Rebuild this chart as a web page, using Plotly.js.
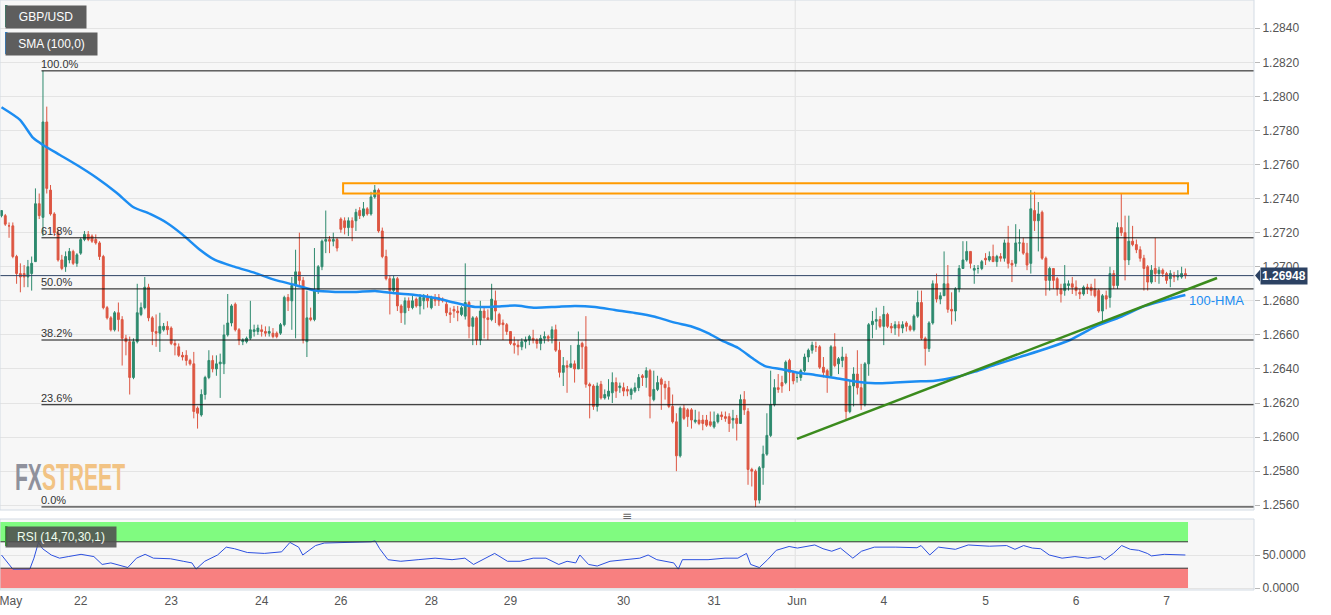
<!DOCTYPE html>
<html><head><meta charset="utf-8">
<script src="https://cdn.plot.ly/plotly-3.0.1.min.js"></script>
<style>
html,body{margin:0;padding:0;background:#fff;}
#wrap{position:relative;width:1331px;height:615px;overflow:hidden;}
#chart{width:1331px;height:615px;}
#wm{position:absolute;left:15px;top:465px;height:26px;font-family:"Liberation Sans Narrow","Liberation Sans",Arial,sans-serif;font-weight:bold;font-size:36px;line-height:26px;transform-origin:0 0;white-space:nowrap;pointer-events:none;overflow:visible;}
</style></head><body>
<div id="wrap"><div id="chart"></div><div id="wm"><span style="color:#8f919c">FX</span><span style="color:#f2c384">STREET</span></div></div>
<script>
// ---- hourly GBP/USD candles ----
const opens = [
1.2730,1.2730,1.2724,1.2724,1.2706,1.2696,1.2696,1.2694,1.2696,1.2703,
1.2737,1.2729,1.2785,1.2745,1.2731,1.2720,1.2704,1.2700,1.2704,1.2709,
1.2702,1.2708,1.2716,1.2719,1.2718,1.2716,1.2714,1.2706,1.2676,1.2670,
1.2663,1.2673,1.2669,1.2658,1.2656,1.2635,1.2656,1.2672,1.2676,1.2688,
1.2670,1.2662,1.2661,1.2663,1.2665,1.2664,1.2655,1.2653,1.2648,1.2648,
1.2645,1.2643,1.2617,1.2613,1.2625,1.2635,1.2645,1.2640,1.2643,1.2643,
1.2660,1.2667,1.2678,1.2663,1.2656,1.2656,1.2658,1.2662,1.2662,1.2663,
1.2662,1.2661,1.2661,1.2661,1.2661,1.2666,1.2682,1.2680,1.2689,1.2697,
1.2692,1.2656,1.2670,1.2669,1.2686,1.2700,1.2715,1.2716,1.2715,1.2716,
1.2728,1.2727,1.2723,1.2727,1.2727,1.2733,1.2730,1.2734,1.2731,1.2741,
1.2745,1.2721,1.2706,1.2693,1.2686,1.2693,1.2677,1.2673,1.2680,1.2676,
1.2681,1.2677,1.2680,1.2682,1.2676,1.2681,1.2682,1.2681,1.2678,1.2673,
1.2675,1.2674,1.2672,1.2671,1.2679,1.2665,1.2670,1.2657,1.2674,1.2670,
1.2669,1.2680,1.2672,1.2667,1.2666,1.2662,1.2655,1.2654,1.2653,1.2656,
1.2657,1.2658,1.2657,1.2655,1.2658,1.2659,1.2658,1.2663,1.2651,1.2638,
1.2642,1.2641,1.2643,1.2640,1.2655,1.2653,1.2631,1.2630,1.2618,1.2631,
1.2623,1.2624,1.2626,1.2632,1.2629,1.2629,1.2628,1.2625,1.2627,1.2629,
1.2636,1.2635,1.2639,1.2622,1.2628,1.2634,1.2631,1.2629,1.2618,1.2609,
1.2589,1.2617,1.2616,1.2616,1.2609,1.2610,1.2610,1.2610,1.2609,1.2606,
1.2609,1.2613,1.2612,1.2612,1.2610,1.2611,1.2608,1.2622,1.2615,1.2581,
1.2580,1.2563,1.2582,1.2590,1.2601,1.2619,1.2629,1.2632,1.2632,1.2645,
1.2638,1.2635,1.2635,1.2639,1.2647,1.2651,1.2653,1.2653,1.2641,1.2639,
1.2636,1.2653,1.2643,1.2645,1.2647,1.2615,1.2630,1.2637,1.2629,1.2619,
1.2643,1.2666,1.2668,1.2669,1.2665,1.2672,1.2665,1.2664,1.2666,1.2664,
1.2667,1.2665,1.2663,1.2671,1.2679,1.2658,1.2652,1.2667,1.2690,1.2681,
1.2683,1.2690,1.2675,1.2674,1.2687,1.2699,1.2704,1.2709,1.2698,1.2699,
1.2699,1.2705,1.2704,1.2706,1.2703,1.2706,1.2705,1.2714,1.2702,1.2702,
1.2714,1.2714,1.2708,1.2702,1.2733,1.2727,1.2732,1.2705,1.2692,1.2699,
1.2693,1.2687,1.2686,1.2689,1.2690,1.2688,1.2685,1.2684,1.2688,1.2688,
1.2687,1.2686,1.2674,1.2683,1.2682,1.2696,1.2689,1.2723,1.2720,1.2704,
1.2715,1.2713,1.2710,1.2705,1.2700,1.2691,1.2699,1.2696,1.2698,1.2696,
1.2693,1.2695,1.2694,1.2694,1.2696];
const highs = [
1.2733,1.2731,1.2726,1.2726,1.2707,1.2702,1.2701,1.2704,1.2706,1.2746,
1.2743,1.2815,1.2794,1.2748,1.2732,1.2722,1.2707,1.2709,1.2711,1.2710,
1.2708,1.2717,1.2721,1.2721,1.2719,1.2719,1.2715,1.2707,1.2677,1.2671,
1.2674,1.2679,1.2671,1.2660,1.2659,1.2658,1.2690,1.2679,1.2694,1.2690,
1.2671,1.2672,1.2673,1.2667,1.2668,1.2665,1.2657,1.2655,1.2650,1.2651,
1.2646,1.2650,1.2618,1.2628,1.2636,1.2651,1.2648,1.2648,1.2649,1.2666,
1.2684,1.2678,1.2679,1.2664,1.2658,1.2659,1.2680,1.2666,1.2666,1.2666,
1.2665,1.2665,1.2664,1.2662,1.2667,1.2683,1.2684,1.2694,1.2710,1.2720,
1.2694,1.2686,1.2676,1.2711,1.2701,1.2716,1.2733,1.2718,1.2720,1.2717,
1.2729,1.2729,1.2729,1.2729,1.2734,1.2735,1.2738,1.2735,1.2744,1.2748,
1.2746,1.2723,1.2710,1.2695,1.2695,1.2694,1.2678,1.2682,1.2682,1.2683,
1.2682,1.2684,1.2684,1.2684,1.2683,1.2684,1.2684,1.2682,1.2680,1.2676,
1.2677,1.2677,1.2677,1.2702,1.2680,1.2671,1.2671,1.2680,1.2676,1.2675,
1.2690,1.2686,1.2673,1.2669,1.2667,1.2662,1.2659,1.2657,1.2658,1.2659,
1.2660,1.2663,1.2658,1.2660,1.2662,1.2660,1.2665,1.2666,1.2656,1.2647,
1.2645,1.2654,1.2645,1.2662,1.2656,1.2671,1.2632,1.2631,1.2632,1.2633,
1.2628,1.2634,1.2638,1.2635,1.2632,1.2632,1.2630,1.2629,1.2632,1.2637,
1.2637,1.2641,1.2640,1.2639,1.2636,1.2635,1.2633,1.2633,1.2625,1.2614,
1.2618,1.2619,1.2617,1.2617,1.2616,1.2615,1.2613,1.2613,1.2615,1.2615,
1.2614,1.2615,1.2615,1.2614,1.2616,1.2613,1.2625,1.2627,1.2617,1.2582,
1.2581,1.2583,1.2595,1.2614,1.2639,1.2634,1.2637,1.2636,1.2645,1.2646,
1.2639,1.2638,1.2640,1.2649,1.2652,1.2656,1.2656,1.2654,1.2647,1.2640,
1.2654,1.2661,1.2647,1.2653,1.2649,1.2633,1.2641,1.2651,1.2643,1.2644,
1.2667,1.2674,1.2676,1.2671,1.2677,1.2673,1.2667,1.2668,1.2668,1.2668,
1.2668,1.2666,1.2672,1.2686,1.2686,1.2659,1.2668,1.2692,1.2696,1.2685,
1.2709,1.2701,1.2685,1.2688,1.2701,1.2715,1.2715,1.2709,1.2701,1.2701,
1.2704,1.2708,1.2709,1.2713,1.2707,1.2708,1.2716,1.2724,1.2704,1.2725,
1.2722,1.2717,1.2714,1.2745,1.2744,1.2738,1.2733,1.2706,1.2700,1.2699,
1.2694,1.2690,1.2701,1.2692,1.2694,1.2692,1.2687,1.2689,1.2690,1.2690,
1.2693,1.2687,1.2684,1.2686,1.2700,1.2698,1.2726,1.2743,1.2730,1.2730,
1.2724,1.2716,1.2712,1.2707,1.2701,1.2701,1.2717,1.2700,1.2699,1.2697,
1.2698,1.2697,1.2698,1.2700,1.2699];
const lows = [
1.2729,1.2724,1.2717,1.2705,1.2690,1.2685,1.2688,1.2688,1.2686,1.2703,
1.2728,1.2718,1.2743,1.2730,1.2718,1.2703,1.2698,1.2697,1.2702,1.2701,
1.2700,1.2707,1.2715,1.2715,1.2714,1.2713,1.2704,1.2675,1.2669,1.2662,
1.2662,1.2662,1.2642,1.2648,1.2625,1.2634,1.2655,1.2671,1.2675,1.2668,
1.2654,1.2653,1.2650,1.2662,1.2660,1.2654,1.2648,1.2647,1.2645,1.2642,
1.2642,1.2611,1.2605,1.2612,1.2622,1.2634,1.2638,1.2636,1.2623,1.2637,
1.2659,1.2665,1.2662,1.2654,1.2654,1.2655,1.2657,1.2659,1.2660,1.2659,
1.2659,1.2659,1.2658,1.2658,1.2660,1.2665,1.2674,1.2663,1.2658,1.2689,
1.2655,1.2647,1.2668,1.2668,1.2684,1.2698,1.2708,1.2708,1.2712,1.2709,
1.2720,1.2719,1.2718,1.2715,1.2721,1.2728,1.2729,1.2730,1.2730,1.2740,
1.2720,1.2705,1.2692,1.2672,1.2685,1.2674,1.2667,1.2666,1.2674,1.2675,
1.2676,1.2672,1.2675,1.2676,1.2675,1.2677,1.2677,1.2679,1.2671,1.2667,
1.2670,1.2668,1.2671,1.2669,1.2658,1.2654,1.2654,1.2654,1.2658,1.2657,
1.2668,1.2667,1.2665,1.2657,1.2660,1.2654,1.2649,1.2648,1.2651,1.2652,
1.2654,1.2655,1.2652,1.2651,1.2655,1.2656,1.2655,1.2650,1.2635,1.2630,
1.2626,1.2641,1.2632,1.2640,1.2640,1.2629,1.2611,1.2616,1.2615,1.2622,
1.2622,1.2622,1.2620,1.2623,1.2626,1.2624,1.2624,1.2622,1.2626,1.2627,
1.2630,1.2629,1.2611,1.2621,1.2627,1.2616,1.2622,1.2617,1.2608,1.2580,
1.2588,1.2610,1.2606,1.2605,1.2608,1.2607,1.2604,1.2606,1.2606,1.2605,
1.2608,1.2610,1.2609,1.2603,1.2605,1.2598,1.2608,1.2613,1.2572,1.2571,
1.2559,1.2561,1.2572,1.2589,1.2600,1.2618,1.2626,1.2626,1.2631,1.2627,
1.2631,1.2632,1.2633,1.2638,1.2644,1.2649,1.2650,1.2640,1.2635,1.2626,
1.2635,1.2641,1.2637,1.2641,1.2610,1.2614,1.2618,1.2625,1.2616,1.2618,
1.2636,1.2658,1.2663,1.2664,1.2654,1.2664,1.2661,1.2660,1.2659,1.2661,
1.2662,1.2662,1.2662,1.2670,1.2657,1.2642,1.2650,1.2666,1.2679,1.2678,
1.2683,1.2673,1.2666,1.2668,1.2685,1.2699,1.2703,1.2699,1.2690,1.2696,
1.2698,1.2701,1.2703,1.2703,1.2700,1.2703,1.2703,1.2699,1.2691,1.2700,
1.2709,1.2707,1.2698,1.2696,1.2721,1.2709,1.2704,1.2683,1.2686,1.2687,
1.2683,1.2679,1.2683,1.2686,1.2684,1.2683,1.2681,1.2683,1.2684,1.2683,
1.2682,1.2673,1.2668,1.2675,1.2676,1.2687,1.2687,1.2718,1.2692,1.2701,
1.2712,1.2708,1.2703,1.2686,1.2686,1.2690,1.2691,1.2690,1.2694,1.2690,
1.2688,1.2691,1.2692,1.2693,1.2693];
const closes = [
1.2733,1.2725,1.2724,1.2706,1.2696,1.2694,1.2694,1.2700,1.2702,1.2737,
1.2730,1.2785,1.2746,1.2731,1.2720,1.2704,1.2699,1.2706,1.2709,1.2702,
1.2707,1.2716,1.2719,1.2716,1.2715,1.2714,1.2706,1.2676,1.2670,1.2663,
1.2673,1.2669,1.2658,1.2656,1.2635,1.2656,1.2673,1.2676,1.2688,1.2670,
1.2662,1.2661,1.2665,1.2665,1.2663,1.2655,1.2654,1.2648,1.2647,1.2645,
1.2643,1.2615,1.2614,1.2625,1.2635,1.2645,1.2640,1.2643,1.2644,1.2660,
1.2667,1.2677,1.2663,1.2657,1.2657,1.2658,1.2663,1.2663,1.2664,1.2662,
1.2661,1.2662,1.2659,1.2659,1.2666,1.2682,1.2680,1.2689,1.2697,1.2692,
1.2657,1.2670,1.2669,1.2686,1.2700,1.2715,1.2716,1.2715,1.2716,1.2711,
1.2722,1.2723,1.2727,1.2723,1.2732,1.2730,1.2734,1.2731,1.2741,1.2745,
1.2721,1.2706,1.2693,1.2686,1.2693,1.2677,1.2673,1.2680,1.2676,1.2680,
1.2677,1.2682,1.2682,1.2680,1.2682,1.2680,1.2680,1.2680,1.2673,1.2672,
1.2674,1.2673,1.2676,1.2679,1.2665,1.2670,1.2657,1.2674,1.2670,1.2669,
1.2681,1.2674,1.2666,1.2666,1.2662,1.2655,1.2654,1.2653,1.2656,1.2657,
1.2659,1.2657,1.2655,1.2658,1.2659,1.2658,1.2663,1.2651,1.2638,1.2642,
1.2641,1.2643,1.2640,1.2654,1.2653,1.2631,1.2630,1.2618,1.2630,1.2623,
1.2625,1.2627,1.2632,1.2627,1.2630,1.2627,1.2627,1.2628,1.2629,1.2635,
1.2635,1.2639,1.2624,1.2628,1.2632,1.2631,1.2629,1.2618,1.2609,1.2589,
1.2617,1.2611,1.2612,1.2610,1.2610,1.2608,1.2608,1.2607,1.2607,1.2609,
1.2613,1.2612,1.2611,1.2608,1.2611,1.2608,1.2622,1.2616,1.2581,1.2580,
1.2563,1.2582,1.2590,1.2601,1.2619,1.2629,1.2628,1.2630,1.2644,1.2638,
1.2633,1.2635,1.2639,1.2647,1.2651,1.2654,1.2653,1.2641,1.2638,1.2635,
1.2653,1.2642,1.2646,1.2647,1.2615,1.2630,1.2637,1.2629,1.2619,1.2643,
1.2666,1.2668,1.2669,1.2665,1.2672,1.2665,1.2664,1.2666,1.2664,1.2666,
1.2665,1.2663,1.2671,1.2679,1.2658,1.2652,1.2667,1.2690,1.2681,1.2683,
1.2690,1.2675,1.2674,1.2687,1.2699,1.2704,1.2709,1.2702,1.2699,1.2699,
1.2703,1.2704,1.2706,1.2703,1.2706,1.2705,1.2714,1.2702,1.2701,1.2714,
1.2714,1.2708,1.2701,1.2734,1.2727,1.2731,1.2705,1.2692,1.2699,1.2692,
1.2687,1.2684,1.2690,1.2690,1.2688,1.2686,1.2684,1.2688,1.2687,1.2686,
1.2683,1.2674,1.2683,1.2681,1.2696,1.2689,1.2723,1.2720,1.2704,1.2715,
1.2713,1.2710,1.2705,1.2699,1.2691,1.2698,1.2696,1.2698,1.2696,1.2692,
1.2696,1.2694,1.2695,1.2696,1.26948];

// ---- 100-period moving average ----
const smaIdx = [0,4.9,8.4,11,15.5,20,25.3,30.6,34.9,39.4,43.9,48.1,52.7,56.6,61.9,67.2,72.5,77.9,83.2,88.5,
93.8,99.1,104.4,109.7,115,120.3,125.6,130.9,136.2,141.5,146.8,152.1,157.4,162.7,168,173.3,178.6,183.2,187.4,191.1,
195.4,199.1,202.5,207,211.3,215.8,221.1,226.4,231.7,237,242.3,247.6,252.9,258.2,263.5,270.2,276.8,283.4,290,296.7,
303.3,309.9,314];
const smaVal = [1.27936,1.27862,1.27756,1.27715,1.27656,1.27597,1.27521,1.27433,1.27351,1.27310,1.27257,1.27187,1.27098,1.27040,1.26999,1.26964,1.26923,1.26893,1.26860,1.26852,
1.26852,1.26858,1.26844,1.26834,1.26817,1.26789,1.26764,1.26766,1.26772,1.26760,1.26764,1.26770,1.26764,1.26746,1.26729,1.26707,1.26672,1.26648,1.26611,1.26566,
1.26523,1.26464,1.26417,1.26398,1.26378,1.26365,1.26347,1.26326,1.26316,1.26320,1.26326,1.26331,1.26351,1.26384,1.26424,1.26471,1.26517,1.26570,1.26647,1.26705,
1.26770,1.26811,1.26834];

// ---- RSI (14) ----
const rsiIdx = [0,1.9,3,7.5,8.6,9.8,10.9,13.2,15.4,17.7,21.1,24.5,26.7,29,33.5,35.8,38.1,40.3,44.8,48.2,
50.5,51.6,53.9,57.3,59.6,61.8,65.2,69.7,74.3,76.5,78.8,79.9,83.3,85.6,90.1,94.6,98,99.1,100.3,102.5,
105.9,110.5,115,119.5,122.9,125.2,128.6,130.8,134.2,137.6,141,144.4,147.8,150,152.3,153.4,155.7,158,161.4,164.8,
169.3,171.5,173.8,178.3,179.5,180.6,187.4,191.9,195.3,197.6,198.7,201,203.2,205.5,208.9,211.1,215.7,217.9,220.2,222.5,
225.8,228.1,231.5,237.2,242.8,243.9,246.2,248.5,253,256.4,262,266.6,268.8,271.1,273.4,275.6,277.9,281.3,284.7,288.1,
291.5,292.6,294.9,297.1,299.4,301.6,303.9,305,308.4,314];
const rsiVal = [50,35.7,28.6,28.6,45.2,69,59.5,50,45.2,47.6,51,47.6,35.7,38,31,45.2,51,45.2,44.3,40.5,
38,28.6,40.5,50,61.9,59.5,53.8,52.4,54.8,69,61.9,50,64.3,68.1,69,69,70,71.4,59.5,42.9,
40.5,42.9,45.2,42.9,45.2,35.7,45.2,52.4,40.5,40.5,45.2,45.2,35.7,40.5,38,50,35.7,33.3,40.5,42.9,
45.2,50,42.9,38,28.6,42.9,42.9,45.2,45.2,52.4,35.7,31,42.9,57.1,62.9,60.5,65.2,59.5,55.7,60.5,
45.2,55.7,61.9,61.9,61,64.3,50,61.9,58.6,65.2,63.3,64.3,58.6,64.3,60.5,59.5,50,45.2,47.6,45.2,
47.6,42.9,52.4,64.3,58.6,57.1,52.4,48.6,51,50];

// ---- axis labels ----
const tickIdx = [2.5,21,45,69,90,114,135,165,189,211,234,261,285,309];
const tickText = ['May','22','23','24','26','28','29','30','31','Jun','4','5','6','7'];

// ---- drawn studies ----
const fibLabels = ['100.0%','61.8%','50.0%','38.2%','23.6%','0.0%'];
const fibLevels = [1.2815,1.2717,1.2687,1.2657,1.2619,1.2559];
const fibStart = 10.6;
const zoneX = [90.6, 314.7];
const zoneY = [1.2743, 1.2749];
const trendX = [211.0, 322.4];
const trendY = [1.2599, 1.26934];
const rsiBandsEnd = 314.7;
const monthStart = 210.5;

const xRange = [-0.4, 332.2];
const lastClose = closes[closes.length - 1];
const xIdx = closes.map((_, i) => i);

// pixel helpers for the fixed chrome (plot area 1254 x 590)
const PW = 1254, PH = 590;
const px = v => v / PW;
const py = v => (PH - v) / PH;

const font = 'Liberation Sans, Arial, sans-serif';
const UP = '#2e8a6e', DN = '#dd5642';

const traces = [
  { type: 'candlestick', x: xIdx, open: opens, high: highs, low: lows, close: closes,
    xaxis: 'x', yaxis: 'y', whiskerwidth: 0,
    increasing: { line: { color: UP, width: 1 }, fillcolor: UP },
    decreasing: { line: { color: DN, width: 1 }, fillcolor: DN },
    hoverinfo: 'skip', showlegend: false },
  { type: 'scatter', mode: 'lines', x: smaIdx, y: smaVal, xaxis: 'x', yaxis: 'y',
    line: { color: '#1c8df2', width: 2.5, shape: 'spline', smoothing: 0.6 }, hoverinfo: 'skip', showlegend: false },
  { type: 'scatter', mode: 'lines', x: rsiIdx, y: rsiVal, xaxis: 'x', yaxis: 'y2',
    line: { color: '#2c50e0', width: 1 }, hoverinfo: 'skip', showlegend: false }
];

const shapes = [];
shapes.push({ type: 'rect', xref: 'x', yref: 'y2', x0: xRange[0], x1: rsiBandsEnd, y0: 70, y1: 100,
  fillcolor: '#80fb80', line: { width: 0 }, layer: 'below' });
shapes.push({ type: 'rect', xref: 'x', yref: 'y2', x0: xRange[0], x1: rsiBandsEnd, y0: 0, y1: 30,
  fillcolor: '#f88080', line: { width: 0 }, layer: 'below' });
[70, 30].forEach(v => shapes.push({ type: 'line', xref: 'x', yref: 'y2', x0: xRange[0], x1: rsiBandsEnd, y0: v, y1: v,
  line: { color: '#333', width: 1 } }));
shapes.push({ type: 'line', xref: 'x', yref: 'y domain', x0: monthStart, x1: monthStart, y0: 0, y1: 1,
  line: { color: '#e0e0e0', width: 1 }, layer: 'below' });
shapes.push({ type: 'line', xref: 'x', yref: 'y2 domain', x0: monthStart, x1: monthStart, y0: 0, y1: 1,
  line: { color: '#e0e0e0', width: 1 }, layer: 'below' });
fibLevels.forEach(v => shapes.push({ type: 'line', xref: 'x', yref: 'y', x0: fibStart, x1: xRange[1], y0: v, y1: v,
  line: { color: '#111', width: 1 } }));
shapes.push({ type: 'line', xref: 'x', yref: 'y', x0: xRange[0], x1: xRange[1], y0: lastClose, y1: lastClose,
  line: { color: '#2f4466', width: 1 } });
shapes.push({ type: 'rect', xref: 'x', yref: 'y', x0: zoneX[0], x1: zoneX[1], y0: zoneY[0], y1: zoneY[1],
  line: { color: '#ff9a00', width: 2 }, fillcolor: 'rgba(0,0,0,0)' });
shapes.push({ type: 'line', xref: 'x', yref: 'y', x0: trendX[0], x1: trendX[1], y0: trendY[0], y1: trendY[1],
  line: { color: '#3b8b1d', width: 2.5 } });
shapes.push({ type: 'rect', xref: 'paper', yref: 'y domain', x0: 0, x1: 1, y0: 0, y1: 1, line: { color: '#d3dbe4', width: 1 } });
shapes.push({ type: 'rect', xref: 'paper', yref: 'y2 domain', x0: 0, x1: 1, y0: 0, y1: 1, line: { color: '#d3dbe4', width: 1 } });
shapes.push({ type: 'rect', xref: 'paper', yref: 'paper', x0: px(5), x1: px(7.5), y0: py(27), y1: py(5), fillcolor: '#2e8a6e', line: { width: 0 } });
shapes.push({ type: 'rect', xref: 'paper', yref: 'paper', x0: px(5), x1: px(7.5), y0: py(54), y1: py(32), fillcolor: '#1c8df2', line: { width: 0 } });
shapes.push({ type: 'rect', xref: 'paper', yref: 'paper', x0: px(5), x1: px(7.5), y0: py(546), y1: py(526), fillcolor: '#22d022', line: { width: 0 } });
const dy = 0.00034;
shapes.push({ type: 'path', xref: 'paper', yref: 'y',
  path: `M ${px(1255)},${lastClose} L ${px(1260)},${lastClose + dy} L ${px(1260)},${lastClose - dy} Z`,
  fillcolor: '#2c4263', line: { width: 0 } });

const annotations = [];
function box(text, x0, y0, w, h, bg, opacity) {
  annotations.push({ xref: 'paper', yref: 'paper', x: px(x0), y: py(y0), xanchor: 'left', yanchor: 'top',
    text: text, showarrow: false, width: w, height: h, align: 'center', valign: 'middle',
    bgcolor: bg, opacity: opacity || 1, borderpad: 0, font: { family: font, size: 12, color: '#fff' } });
}
box('GBP/USD', 5, 5, 80, 22, '#5e5e5e');
box('SMA (100,0)', 5, 32, 91, 22, '#5e5e5e');
box('RSI (14,70,30,1)', 5, 526, 110, 20, '#505050', 0.88);

fibLabels.forEach((t, i) => annotations.push({ xref: 'x', yref: 'y', x: fibStart, y: fibLevels[i],
  xanchor: 'left', yanchor: 'bottom', text: t, showarrow: false, xshift: -2, yshift: -1,
  font: { family: font, size: 11, color: '#333' } }));

annotations.push({ xref: 'x', yref: 'y', x: 314.5, y: 1.26800, xanchor: 'left', yanchor: 'middle',
  text: '100-HMA', showarrow: false, font: { family: font, size: 13, color: '#1c8df2' } });

annotations.push({ xref: 'paper', yref: 'y', x: px(1260), y: lastClose, xanchor: 'left', yanchor: 'middle',
  text: '<b>' + lastClose.toFixed(5) + '</b>', showarrow: false, bgcolor: '#2c4263', borderpad: 1,
  font: { family: font, size: 12, color: '#fff' } });

annotations.push({ xref: 'paper', yref: 'paper', x: px(627), y: py(516), xanchor: 'center', yanchor: 'middle',
  text: '≡', showarrow: false, font: { family: 'DejaVu Sans, sans-serif', size: 12, color: '#666' } });

const layout = {
  width: 1331, height: 615,
  margin: { l: 0, r: 77, t: 0, b: 25 },
  paper_bgcolor: '#ffffff', plot_bgcolor: '#f7f7f7',
  showlegend: false, hovermode: false, dragmode: false,
  xaxis: { range: xRange, anchor: 'y2', tickvals: tickIdx, ticktext: tickText, showgrid: false, zeroline: false,
    showline: false, ticks: '', ticklabeloverflow: 'allow', ticklabelstandoff: 2,
    tickfont: { family: font, size: 12, color: '#555' }, rangeslider: { visible: false }, fixedrange: true },
  yaxis: { domain: [py(510), 1], range: [1.25572, 1.28566], side: 'right', tick0: 1.2560, dtick: 0.002,
    tickformat: '.4f', gridcolor: '#e4e4e4', zeroline: false, showline: false, ticks: 'outside', ticklen: 5,
    tickcolor: '#b8b8b8', tickfont: { family: font, size: 12, color: '#555' }, fixedrange: true },
  yaxis2: { domain: [0, py(519)], range: [-3.0, 104.5], side: 'right', tickvals: [0, 50],
    ticktext: ['0.0000', '50.0000'], gridcolor: '#e4e4e4', zeroline: false, showline: false, ticks: 'outside',
    ticklen: 5, tickcolor: '#b8b8b8', tickfont: { family: font, size: 12, color: '#555' }, fixedrange: true },
  shapes: shapes, annotations: annotations
};

Plotly.newPlot('chart', traces, layout, { displayModeBar: false, staticPlot: true }).then(() => {
  const wm = document.getElementById('wm');
  const w = wm.getBoundingClientRect().width;
  if (w > 0) wm.style.transform = 'scaleX(' + (110 / w) + ')';
});
</script>
</body></html>
